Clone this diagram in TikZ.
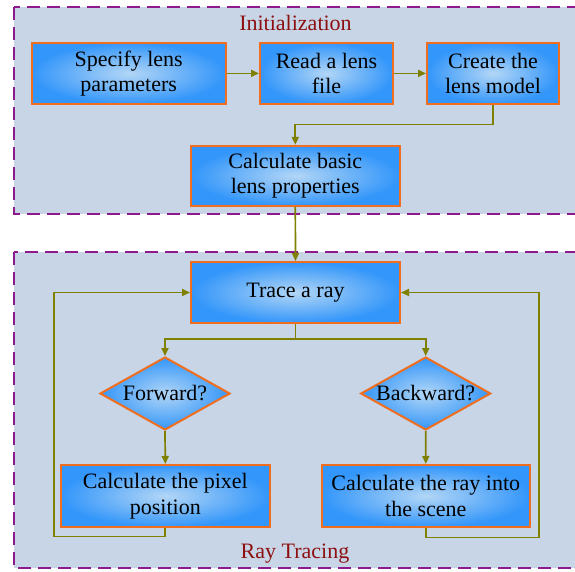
\documentclass[tikz,border=0pt]{standalone}
\usepackage{fontspec}
\setmainfont{Liberation Serif}
\usetikzlibrary{shapes.geometric,arrows.meta}
\definecolor{framefill}{RGB}{200,213,230}
\definecolor{framedash}{RGB}{140,26,140}
\definecolor{boxborder}{RGB}{240,110,30}
\definecolor{boxin}{RGB}{178,214,246}
\definecolor{boxout}{RGB}{51,150,250}
\definecolor{arrowcol}{RGB}{128,128,0}
\definecolor{titlecol}{RGB}{140,16,16}
\tikzset{
  frame/.style={fill=framefill, draw=framedash, line width=2.5pt, dash pattern=on 13pt off 7pt},
  procbox/.style={rectangle, draw=boxborder, line width=2pt, inner color=boxin, outer color=boxout,
    inner sep=0pt, align=center, font=\fontsize{22}{25.5}\selectfont},
  decbox/.style={diamond, draw=boxborder, line width=2pt, inner color=boxin, outer color=boxout,
    inner sep=0pt, aspect=1.78, minimum width=130pt, minimum height=73pt, font=\fontsize{22}{25.5}\selectfont},
  arr/.style={draw=arrowcol, line width=1.7pt, -{Triangle[length=8pt,width=7pt]}},
  title/.style={text=titlecol, font=\fontsize{22}{25.5}\selectfont, anchor=base}
}
\begin{document}
\begin{tikzpicture}[x=1pt,y=-1pt]
\useasboundingbox (0,0) rectangle (575,572);
\clip (0,0) rectangle (575,572);
% frames
\draw[frame] (14,7) rectangle (610,214);
\draw[frame] (14,252) rectangle (610,568);
\node[title] (tinit) at (295.5,30.5) {Initialization};
\node[title] (tray) at (295,558) {Ray Tracing};
% nodes
\node[procbox, minimum width=194pt, minimum height=61pt] (b1) at (128.7,73.4) {Specify lens\\parameters};
\node[procbox, minimum width=133pt, minimum height=61pt] (b2) at (326.5,73.4) {Read a lens\\file};
\node[procbox, minimum width=132pt, minimum height=61pt] (b3) at (493,73.4) {Create the\\lens model};
\node[procbox, minimum width=209pt, minimum height=60pt] (b4) at (295.3,175.8) {Calculate basic\\lens properties};
\node[procbox, minimum width=209pt, minimum height=61pt] (trace) at (295.5,292.5) {Trace a ray};
\node[decbox] (fwd) at (165,393.5) {Forward?};
\node[decbox] (bwd) at (425.7,393.5) {Backward?};
\node[procbox, minimum width=209pt, minimum height=62pt] (pix) at (165.3,496) {Calculate the pixel\\position};
\node[procbox, minimum width=208pt, minimum height=62pt] (ray) at (425.8,496) {Calculate the ray into\\the scene};
\coordinate (lx) at (54,0);
\coordinate (rx) at (539,0);
% connectors
\draw[arr] (b1) -- (b2);
\draw[arr] (b2) -- (b3);
\draw[arr] (b3.south) -- ++(0,19.5) -| (b4.north);
\draw[arr] (b4.south) -- (trace.north);
\draw[arr] (trace.south) -- ++(0,15) -| (fwd.north);
\draw[arr] (trace.south) -- ++(0,15) -| (bwd.north);
\draw[arr] (fwd.south) -- (pix.north);
\draw[arr] (bwd.south) -- (ray.north);
\draw[arr] (pix.south) -- ++(0,8.5) -| (lx |- trace.west) -- (trace.west);
\draw[arr] (ray.south) -- ++(0,9.5) -| (rx |- trace.east) -- (trace.east);
\end{tikzpicture}
\end{document}
